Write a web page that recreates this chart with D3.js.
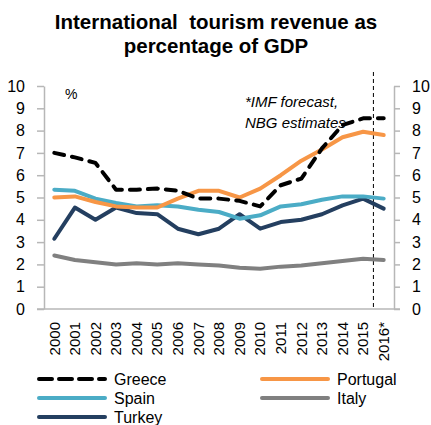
<!DOCTYPE html>
<html>
<head>
<meta charset="utf-8">
<script src="https://cdn.jsdelivr.net/npm/d3@7.9.0/dist/d3.min.js"></script>
<style>
  body { margin: 0; background: #fff; }
  svg { font-family: "Liberation Sans", Arial, sans-serif; }
</style>
</head>
<body>
<svg id="chart" width="431" height="425"></svg>
<script>
// Data
const years = ['2000', '2001', '2002', '2003', '2004', '2005', '2006', '2007', '2008',
    '2009', '2010', '2011', '2012', '2013', '2014', '2015', '2016*'];
const greece   = [7.0, 6.8, 6.55, 5.35, 5.35, 5.4, 5.3, 4.95, 4.95, 4.85, 4.6, 5.55, 5.85, 7.2, 8.25, 8.55, 8.55];
const portugal = [5.0, 5.05, 4.8, 4.6, 4.55, 4.55, 4.95, 5.3, 5.3, 5.0, 5.4, 6.0, 6.65, 7.15, 7.7, 7.95, 7.8];
const spain    = [5.35, 5.3, 4.95, 4.75, 4.6, 4.65, 4.6, 4.45, 4.35, 4.05, 4.2, 4.6, 4.7, 4.9, 5.05, 5.05, 4.95];
const italy    = [2.4, 2.2, 2.1, 2.0, 2.05, 2.0, 2.05, 2.0, 1.95, 1.85, 1.8, 1.9, 1.95, 2.05, 2.15, 2.25, 2.2];
const turkey   = [3.15, 4.55, 4.0, 4.55, 4.3, 4.25, 3.6, 3.35, 3.6, 4.25, 3.6, 3.9, 4.0, 4.25, 4.65, 4.95, 4.5];
const yTicks = [0, 1, 2, 3, 4, 5, 6, 7, 8, 9, 10];

const series = [
    { name: 'Greece',   values: greece,   color: '#000000', dash: '10,8', legendDash: '13,7' },
    { name: 'Portugal', values: portugal, color: '#f79646' },
    { name: 'Spain',    values: spain,    color: '#4bacc6' },
    { name: 'Italy',    values: italy,    color: '#808080' },
    { name: 'Turkey',   values: turkey,   color: '#243f60' }
];

const svg = d3.select('#chart');
const plotL = 44, plotR = 394, plotT = 86, plotB = 309;
const axisColor = '#b7b7b7';

const x = d3.scaleBand().domain(years).range([plotL, plotR]);
const y = d3.scaleLinear().domain([0, 10]).range([plotB, plotT]);

// Title
svg.append('text')
    .attr('x', 216).attr('text-anchor', 'middle')
    .attr('font-weight', 'bold').attr('font-size', 20.5)
    .selectAll('tspan')
    .data(['International  tourism revenue as', 'percentage of GDP'])
    .join('tspan')
    .attr('x', 216)
    .attr('y', (d, i) => 29 + i * 24)
    .style('white-space', 'pre')
    .text(d => d);

// Left axis
const yl = svg.append('g')
    .attr('transform', `translate(${plotL},0)`)
    .call(d3.axisLeft(y).tickValues(yTicks).tickSize(7).tickSizeOuter(0).tickPadding(12));
// Right axis
const yr = svg.append('g')
    .attr('transform', `translate(${plotR},0)`)
    .call(d3.axisRight(y).tickValues(yTicks).tickSize(6).tickSizeOuter(0).tickPadding(12));
[yl, yr].forEach(g => {
    g.selectAll('path, line').attr('stroke', axisColor).attr('stroke-width', 1.5);
    g.selectAll('text').attr('font-size', 16).attr('fill', '#000');
});

// Bottom axis
const xa = svg.append('g')
    .attr('transform', `translate(0,${plotB})`)
    .call(d3.axisBottom(x).tickSize(0));
xa.select('.domain').remove();
xa.selectAll('text')
    .attr('font-size', 15).attr('fill', '#000')
    .attr('transform', 'rotate(-90)')
    .attr('x', -13).attr('y', 0).attr('dy', '0.35em')
    .style('text-anchor', 'end');
svg.append('line')
    .attr('x1', plotL - 7).attr('x2', plotR + 6)
    .attr('y1', plotB).attr('y2', plotB)
    .attr('stroke', axisColor).attr('stroke-width', 1.5);

// Forecast separator
const sepX = (x('2015') + x('2016*') + x.bandwidth()) / 2;
svg.append('line')
    .attr('x1', sepX).attr('x2', sepX)
    .attr('y1', 72).attr('y2', plotB)
    .attr('stroke', '#000').attr('stroke-width', 1)
    .attr('stroke-dasharray', '4,3');

// Annotations
svg.append('text').attr('x', 65).attr('y', 99).attr('font-size', 14).text('%');
svg.append('text')
    .attr('font-style', 'italic').attr('font-size', 15)
    .selectAll('tspan')
    .data(['*IMF forecast,', 'NBG estimates'])
    .join('tspan')
    .attr('x', 245)
    .attr('y', (d, i) => 107 + i * 21)
    .text(d => d);

// Lines
const line = d3.line()
    .x((d, i) => x(years[i]) + x.bandwidth() / 2)
    .y(d => y(d));

const order = ['Italy', 'Turkey', 'Spain', 'Portugal', 'Greece'];
order.forEach(n => {
    const s = series.find(d => d.name === n);
    svg.append('path')
        .datum(s.values)
        .attr('d', line)
        .attr('fill', 'none')
        .attr('stroke', s.color)
        .attr('stroke-width', 4)
        .attr('stroke-linejoin', 'round')
        .attr('stroke-linecap', 'round')
        .attr('stroke-dasharray', s.dash || null);
});

// Legend
const legendPos = [
    [37, 379], [260, 379],
    [37, 398], [260, 398],
    [37, 417]
];
const legendOrder = ['Greece', 'Portugal', 'Spain', 'Italy', 'Turkey'];
const lg = svg.append('g').selectAll('g')
    .data(legendOrder.map(n => series.find(d => d.name === n)))
    .join('g')
    .attr('transform', (d, i) => `translate(${legendPos[i][0]},${legendPos[i][1]})`);
lg.append('line')
    .attr('x1', 2).attr('x2', 68)
    .attr('stroke', d => d.color)
    .attr('stroke-width', 4)
    .attr('stroke-linecap', 'round')
    .attr('stroke-dasharray', d => d.legendDash || null);
lg.append('text')
    .attr('x', 77).attr('dy', '0.35em')
    .attr('font-size', 16)
    .text(d => d.name);
</script>
</body>
</html>
